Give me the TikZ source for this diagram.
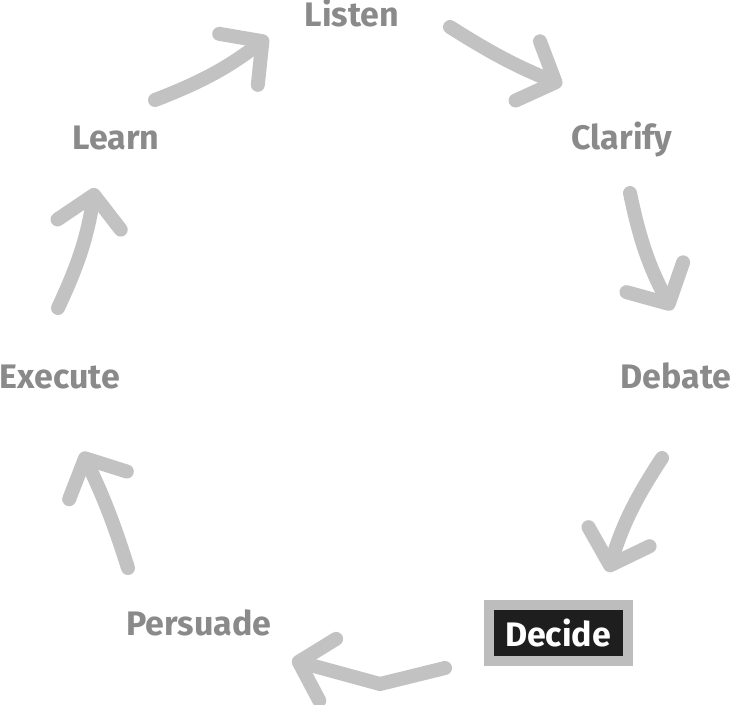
\documentclass[tikz,border=0pt]{standalone}
\usepackage{fontspec}
\setmainfont{Fira Sans}
\usetikzlibrary{arrows.meta}
\definecolor{labelgray}{HTML}{8A8A8A}
\definecolor{arrowgray}{HTML}{C2C2C2}
\definecolor{boxgray}{HTML}{BDBDBD}
\definecolor{boxblack}{HTML}{1E1E1E}

\begin{document}
\begin{tikzpicture}[x = 1pt, y = -1pt,
    step label/.style = {anchor = base, text = labelgray, font = \fontsize{34}{38}\selectfont\bfseries},
    cycle arrow/.style = {draw = arrowgray, line width = 14pt, line cap = round, line join = round,
      -{Straight Barb[length = 30pt, width = 64pt, round]}}]
    \useasboundingbox (0,0) rectangle (730,704);
    \node[step label] (listen) at (352,26) {Listen};
    \node[step label] (clarify) at (622,149) {Clarify};
    \node[step label] (debate) at (676,388) {Debate};
    \node[draw = boxgray, fill = boxblack, line width = 10pt, minimum width = 139pt, minimum height = 56pt,
      text = white, font = \fontsize{34}{38}\selectfont\bfseries] (decide) at (558,633) {Decide};
    \node[step label] (persuade) at (199,635) {Persuade};
    \node[step label] (execute) at (60,388) {Execute};
    \node[step label] (learn) at (116,149) {Learn};
    % Arrow ends
    \coordinate (a1) at (155,100);  \coordinate (b1) at (268,37);
    \coordinate (a2) at (450,27);   \coordinate (b2) at (562,85);
    \coordinate (a3) at (630,193);  \coordinate (b3) at (672,310);
    \coordinate (a4) at (662,458);  \coordinate (b4) at (608,572);
    \coordinate (a5) at (445,668);  \coordinate (m5) at (380,684);  \coordinate (b5) at (292,660);
    \coordinate (a6) at (128,568);  \coordinate (b6) at (82,452);
    \coordinate (a7) at (58,308);   \coordinate (b7) at (95,188);
    \draw[cycle arrow] (a1) to[bend right = 8] (b1);
    \draw[cycle arrow] (a2) to[bend right = 5] (b2);
    \draw[cycle arrow] (a3) to[bend right = 8] (b3);
    \draw[cycle arrow] (a4) to[bend right = 8] (b4);
    \draw[cycle arrow] (a5) -- (m5) -- (b5);
    \draw[cycle arrow] (a6) to[bend right = 4] (b6);
    \draw[cycle arrow] (a7) to[bend right = 8] (b7);
  \end{tikzpicture}
\end{document}
